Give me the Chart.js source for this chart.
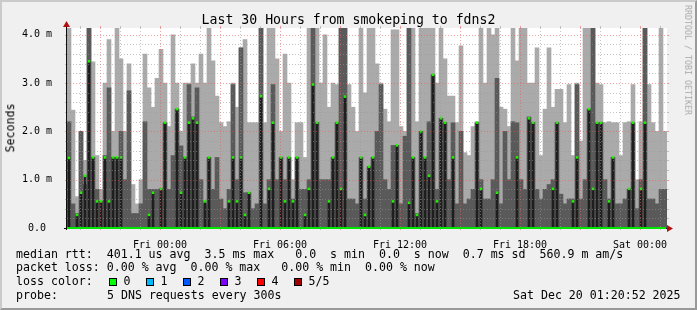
<!DOCTYPE html>
<html>
<head>
<meta charset="utf-8">
<script src="https://cdn.jsdelivr.net/npm/chart.js@4.4.1/dist/chart.umd.min.js"></script>
<style>
html, body { margin: 0; padding: 0; background: #f0f0f0; }
#wrap { position: relative; width: 697px; height: 310px; overflow: hidden; font-family: 'DejaVu Sans Mono', monospace; color: #000; }
#chart { position: absolute; left: 0; top: 0; }
.frame { position: absolute; left: 0; top: 0; width: 697px; height: 310px; box-sizing: border-box; pointer-events: none;
  border-top: 2px solid #cbcbcb; border-left: 2px solid #cbcbcb; border-right: 2px solid #999; border-bottom: 2px solid #999; }
.t { position: absolute; white-space: pre; font-size: 11.6px; line-height: 11.6px; }
#title { left: 0; width: 697px; text-align: center; top: 12.8px; font-size: 13.2px; line-height: 13.2px; }
.rot { position: absolute; width: 0; height: 0; }
.rot span { position: absolute; left: 0; top: 0; white-space: nowrap; transform: translate(-50%, -50%) rotate(-90deg); }
.box { position: absolute; top: 278px; width: 6px; height: 6px; border: 1px solid #000; }
</style>
</head>
<body>
<div id="wrap">
  <canvas id="chart" width="697" height="310"></canvas>
  <div class="t" id="title">Last 30 Hours from smokeping to fdns2</div>
  <div class="rot" style="left:10.5px; top:128px;"><span class="t" style="position:absolute">Seconds</span></div>
  <div class="rot" style="left:688px; top:60px;"><span style="font-size:8.3px; line-height:8.3px; color:#aaa; transform: translate(-50%, -50%) rotate(90deg);">RRDTOOL / TOBI OETIKER</span></div>

  <div class="t" style="left:16px; top:248.5px;">median rtt:  401.1 us avg  3.5 ms max   0.0  s min  0.0  s now  0.7 ms sd  560.9 m am/s</div>
  <div class="t" style="left:16px; top:262.2px;">packet loss: 0.00 % avg  0.00 % max   0.00 % min  0.00 % now</div>
  <div class="t" style="left:16px; top:275.9px;">loss color:</div>
  <div id="losskey"></div>
  <div class="t" style="left:16px; top:289.6px;">probe:</div>
  <div class="t" style="left:107px; top:289.6px;">5 DNS requests every 300s</div>
  <div class="t" style="left:513px; top:289.6px;">Sat Dec 20 01:20:52 2025</div>
  <div class="frame"></div>
</div>
<script>
// 150 slots of 12 minutes, starting Thu 19:20:52 (minutes counted from Thu 00:00)
const startMinute = 1160.87;
const slotMinutes = 12;

// outer smoke (light grey) top, seconds * 1000
const light = [
  4.2, 2.44, 0.65, 2.0, 1.4, 4.2, 3.44, 1.5, 0.8, 3.0,
  3.9, 2.0, 4.2, 3.5, 2.0, 3.4, 0.9, 0.5, 1.0, 3.6,
  2.9, 2.5, 3.1, 3.7, 3.0, 2.1, 4.0, 3.0, 2.0, 3.0,
  3.0, 3.4, 3.0, 3.6, 3.0, 4.2, 3.46, 2.73, 2.18, 2.1,
  2.2, 3.0, 2.5, 3.73, 3.9, 2.18, 2.18, 2.18, 4.2, 2.18,
  4.2, 4.2, 3.5, 2.0, 3.6, 3.0, 1.0, 2.18, 2.18, 1.46,
  4.2, 4.2, 4.2, 3.0, 4.0, 2.5, 3.0, 2.97, 4.2, 4.2,
  2.97, 2.5, 2.0, 4.2, 2.8, 4.2, 4.2, 3.4, 3.0, 2.46,
  2.2, 4.1, 4.1, 2.1, 2.0, 4.2, 4.2, 2.2, 4.2, 4.2,
  4.2, 4.2, 3.0, 4.2, 3.5, 2.73, 2.73, 2.18, 3.77, 1.56,
  1.5, 2.1, 2.2, 4.2, 3.0, 4.2, 4.0, 4.2, 2.5, 2.46,
  2.1, 4.2, 3.46, 4.2, 4.2, 3.0, 3.0, 3.73, 1.5, 2.46,
  3.73, 2.5, 2.87, 2.87, 2.18, 2.97, 1.5, 3.0, 1.8, 4.2,
  4.2, 4.2, 3.0, 2.97, 2.18, 2.2, 2.18, 2.18, 1.5, 2.18,
  2.2, 2.97, 1.0, 2.2, 4.2, 2.97, 2.18, 2.0, 4.2, 2.0
];
// inner smoke (dark grey) top
const mid = [
  2.2, 0.5, 0.3, 2.0, 0.9, 4.2, 1.46, 0.8, 0.55, 1.5,
  2.9, 1.46, 1.46, 2.0, 1.0, 2.84, 0.3, 0.3, 0.5, 2.2,
  0.8, 0.8, 0.8, 0.81, 2.18, 0.8, 1.5, 2.46, 1.7, 1.46,
  2.97, 2.3, 2.9, 1.0, 0.5, 1.46, 0.8, 1.46, 0.6, 0.4,
  0.8, 2.97, 1.0, 3.73, 0.73, 0.73, 0.4, 0.5, 4.2, 0.5,
  1.0, 2.97, 1.0, 1.46, 1.0, 1.46, 0.6, 1.46, 0.8, 0.8,
  1.0, 4.2, 2.18, 1.0, 1.0, 1.0, 1.46, 2.18, 4.2, 4.2,
  0.6, 0.6, 0.5, 1.46, 0.6, 1.27, 1.46, 2.0, 2.97, 1.0,
  0.8, 1.71, 1.71, 0.5, 1.9, 4.2, 1.46, 0.3, 2.0, 1.46,
  2.2, 3.17, 0.8, 2.27, 2.18, 1.0, 2.18, 0.5, 2.0, 0.5,
  0.6, 0.8, 2.18, 1.0, 0.6, 0.6, 1.0, 3.1, 0.5, 2.0,
  1.0, 2.2, 2.18, 1.0, 0.8, 2.3, 2.18, 0.8, 0.6, 0.8,
  0.9, 1.0, 2.18, 0.7, 0.5, 0.6, 0.6, 2.97, 0.6, 1.0,
  2.46, 4.2, 2.18, 2.18, 1.0, 0.6, 1.46, 0.5, 0.5, 0.6,
  0.8, 2.18, 0.4, 1.0, 4.2, 0.6, 0.6, 0.5, 0.8, 0.8
];
// median rtt
const median = [
  1.45, 0, 0.27, 0.73, 1.08, 3.45, 1.46, 0.55, 0.55, 1.46,
  0.55, 1.46, 1.46, 1.46, 0, 0, 0, 0, 0, 0,
  0.27, 0.73, 0, 0.81, 2.18, 0, 0, 2.46, 0.73, 1.46,
  2.18, 2.27, 2.18, 0, 0.55, 1.46, 0, 0, 0, 0,
  0.55, 1.46, 0.55, 1.46, 0.27, 0.73, 0, 0, 2.73, 0,
  0.81, 2.18, 0, 1.46, 0.55, 1.46, 0.55, 1.46, 0, 0.27,
  0.81, 2.97, 2.18, 0, 0, 0.55, 1.46, 2.18, 0.81, 2.72,
  0, 0, 0, 1.46, 0.27, 1.27, 1.46, 0, 0, 0,
  0, 0.55, 1.71, 0, 0, 0.52, 1.46, 0.27, 2.0, 1.46,
  1.08, 3.17, 0.55, 2.27, 2.18, 0, 1.46, 0, 0, 0,
  0, 0, 2.18, 0.81, 0, 0, 0, 0.73, 0, 0,
  0, 0, 1.46, 0, 0, 2.27, 2.18, 0, 0, 0,
  0, 0.81, 2.18, 0, 0, 0, 0.55, 1.46, 0, 0,
  2.46, 0.81, 2.18, 2.18, 0, 0.55, 1.46, 0, 0, 0,
  0.81, 2.18, 0, 0.81, 2.18, 0, 0, 0, 0, 0
];

const xTickValues = [1440, 1800, 2160, 2520, 2880];
const xTickLabels = ['Fri 00:00', 'Fri 06:00', 'Fri 12:00', 'Fri 18:00', 'Sat 00:00'];
const yTickValues = [0, 1, 2, 3, 4];
const yTickLabels = ['0.0 ', '1.0 m', '2.0 m', '3.0 m', '4.0 m'];

const lossLabels = ['0', '1', '2', '3', '4', '5/5'];
const lossColors = ['#00ff00', '#00b8ff', '#0059ff', '#7e00ff', '#ff0000', '#a10000'];

const keyDiv = document.getElementById('losskey');
lossLabels.forEach((lab, i) => {
  const b = document.createElement('div');
  b.className = 'box';
  b.style.left = (109 + 37 * i) + 'px';
  b.style.background = lossColors[i];
  keyDiv.appendChild(b);
  const t = document.createElement('div');
  t.className = 't';
  t.style.left = (123.5 + 37 * i) + 'px';
  t.style.top = '275.9px';
  t.textContent = lab;
  keyDiv.appendChild(t);
});

const slotTimes = light.map((_, i) => startMinute + slotMinutes * (i + 0.5));

const bgPlugin = {
  id: 'bg',
  beforeDatasetsDraw(chart) {
    const { ctx, chartArea: a } = chart;
    ctx.save();
    ctx.fillStyle = '#ffffff';
    ctx.fillRect(a.left, a.top, a.right - a.left, a.bottom - a.top);
    ctx.restore();
  }
};

const gridPlugin = {
  id: 'rrdgrid',
  afterDatasetsDraw(chart) {
    const { ctx, chartArea: a, scales: { x, y } } = chart;
    ctx.save();
    ctx.lineWidth = 1;
    const minor = 'rgba(150,150,150,0.55)';
    const major = 'rgba(225,90,90,0.55)';
    // vertical: every hour, major every 3 hours
    for (let m = Math.ceil(x.min / 60) * 60; m < x.max; m += 60) {
      const px = Math.round(x.getPixelForValue(m)) + 0.5;
      ctx.strokeStyle = (m % 180 === 0) ? major : minor;
      ctx.setLineDash([1, 2]);
      ctx.beginPath(); ctx.moveTo(px, a.top); ctx.lineTo(px, a.bottom); ctx.stroke();
      ctx.setLineDash([]);
      ctx.beginPath(); ctx.moveTo(px, a.bottom); ctx.lineTo(px, a.bottom + 2); ctx.stroke();
      ctx.beginPath(); ctx.moveTo(px, a.top - 2); ctx.lineTo(px, a.top); ctx.stroke();
    }
    // horizontal: every 0.2 ms, major every 1 ms
    for (let k = 1; k <= 20; k++) {
      const v = k / 5;
      const py = Math.round(y.getPixelForValue(v)) + 0.5;
      ctx.strokeStyle = (k % 5 === 0) ? major : minor;
      ctx.setLineDash([1, 2]);
      ctx.beginPath(); ctx.moveTo(a.left, py); ctx.lineTo(a.right, py); ctx.stroke();
      ctx.setLineDash([]);
      ctx.beginPath(); ctx.moveTo(a.left - 2, py); ctx.lineTo(a.left, py); ctx.stroke();
      ctx.beginPath(); ctx.moveTo(a.right, py); ctx.lineTo(a.right + 2, py); ctx.stroke();
    }
    // axes
    ctx.strokeStyle = '#101010';
    ctx.beginPath(); ctx.moveTo(a.left - 0.5, a.bottom + 2); ctx.lineTo(a.left - 0.5, a.top - 4); ctx.stroke();
    ctx.beginPath(); ctx.moveTo(a.left - 3, a.bottom + 0.5); ctx.lineTo(a.right + 3, a.bottom + 0.5); ctx.stroke();
    // median at zero
    ctx.strokeStyle = '#00e600';
    ctx.lineWidth = 2;
    ctx.beginPath(); ctx.moveTo(a.left, a.bottom); ctx.lineTo(a.right - 1, a.bottom); ctx.stroke();
    // arrows
    ctx.fillStyle = '#b01010';
    ctx.beginPath();
    ctx.moveTo(a.left - 0.5, a.top - 7); ctx.lineTo(a.left - 4, a.top - 1); ctx.lineTo(a.left + 3, a.top - 1);
    ctx.closePath(); ctx.fill();
    ctx.beginPath();
    ctx.moveTo(a.right + 6, a.bottom + 0.5); ctx.lineTo(a.right, a.bottom - 3); ctx.lineTo(a.right, a.bottom + 4);
    ctx.closePath(); ctx.fill();
    ctx.restore();
  }
};

const tickFont = { family: 'DejaVu Sans Mono', size: 10 };

new Chart(document.getElementById('chart'), {
  type: 'bar',
  data: {
    datasets: [
      {
        label: 'median',
        type: 'line',
        order: 1,
        showLine: false,
        pointStyle: 'rect',
        pointRadius: 1.8,
        pointBorderWidth: 0,
        pointBackgroundColor: '#20f000',
        data: median.map((m, i) => ({ x: slotTimes[i], y: m > 0 ? m : null }))
      },
      {
        label: 'median bar',
        order: 2,
        grouped: false,
        barThickness: 2,
        backgroundColor: '#1e1e1e',
        data: median.map((m, i) => ({ x: slotTimes[i], y: m > 0 ? [0, m] : null }))
      },
      {
        label: 'inner smoke',
        order: 3,
        grouped: false,
        barPercentage: 1,
        categoryPercentage: 1,
        backgroundColor: '#5a5a5a',
        data: mid.map((v, i) => ({ x: slotTimes[i], y: [0, v] }))
      },
      {
        label: 'outer smoke',
        order: 4,
        grouped: false,
        barPercentage: 1,
        categoryPercentage: 1,
        backgroundColor: '#aaaaaa',
        data: light.map((v, i) => ({ x: slotTimes[i], y: [0, v] }))
      }
    ]
  },
  options: {
    responsive: false,
    animation: false,
    devicePixelRatio: 1,
    layout: { padding: { top: 28, right: 30, left: 0, bottom: 0 } },
    plugins: {
      legend: { display: false },
      tooltip: { enabled: false },
      title: { display: false }
    },
    scales: {
      x: {
        type: 'linear',
        min: startMinute,
        max: startMinute + 1800,
        offset: false,
        grid: { display: false },
        border: { display: false },
        afterBuildTicks: s => { s.ticks = xTickValues.map(v => ({ value: v })); },
        afterFit: s => { s.height = 82; },
        ticks: {
          autoSkip: false,
          maxRotation: 0,
          padding: 3,
          color: '#000',
          font: tickFont,
          callback: v => xTickLabels[xTickValues.indexOf(v)]
        }
      },
      y: {
        min: 0,
        max: 4.14,
        grid: { display: false },
        border: { display: false },
        afterBuildTicks: s => { s.ticks = yTickValues.map(v => ({ value: v })); },
        afterFit: s => { s.width = 67; },
        ticks: {
          padding: 7,
          color: '#000',
          font: tickFont,
          callback: v => yTickLabels[yTickValues.indexOf(v)]
        }
      }
    }
  },
  plugins: [bgPlugin, gridPlugin]
});
</script>
</body>
</html>
